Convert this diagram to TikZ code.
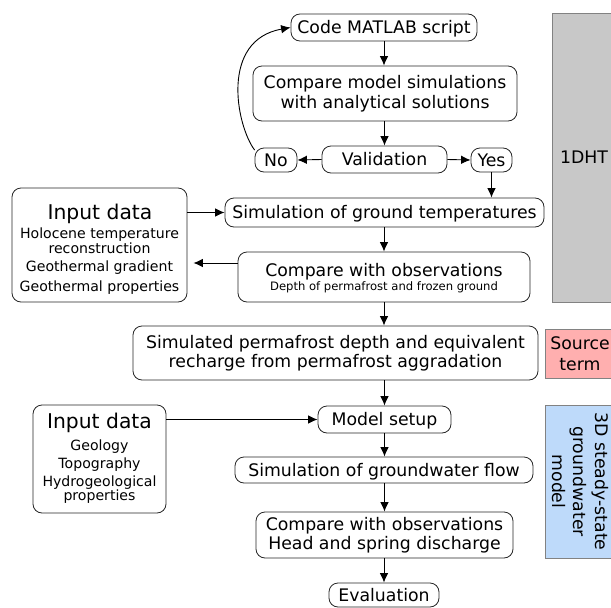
\documentclass[tikz,border=0pt]{standalone}
\usepackage{fontspec}
\setmainfont{DejaVu Sans}
\usetikzlibrary{arrows.meta}
\definecolor{grayfill}{RGB}{200,200,200}
\definecolor{pinkfill}{RGB}{255,175,175}
\definecolor{bluefill}{RGB}{190,218,250}
\definecolor{sideedge}{RGB}{130,130,130}
\begin{document}
\begin{tikzpicture}[x=1pt,y=-1pt,
  box/.style={draw=black!85, line width=0.8pt, rounded corners=9pt, inner sep=0pt,
    font=\fontsize{17.3}{19.5}\selectfont, align=center},
  onebox/.style={box, text height=12.6pt, text depth=0pt},
  arr/.style={-{Latex[length=9.5pt,width=8.5pt]}, line width=0.9pt},
  sidebox/.style={draw=sideedge, line width=0.8pt, inner sep=0pt, align=center,
    font=\fontsize{17.3}{21}\selectfont},
  bigtxt/.style={inner sep=0pt, font=\fontsize{20.3}{22}\selectfont, text height=14.8pt, text depth=0pt},
  midtxt/.style={inner sep=0pt, font=\fontsize{14.1}{15}\selectfont, text height=10.3pt, text depth=0pt},
  maintxt/.style={inner sep=0pt, font=\fontsize{17.3}{19}\selectfont, text height=12.6pt, text depth=0pt},
  smalltxt/.style={inner sep=0pt, font=\fontsize{11.6}{13}\selectfont, text height=8.5pt, text depth=0pt}]
\useasboundingbox (0,0) rectangle (611,608);

% side boxes
\node[sidebox, fill=grayfill, minimum width=64pt, minimum height=289pt] (dht) at (584,157.5) {1DHT};
\node[sidebox, fill=pinkfill, minimum width=70pt, minimum height=49pt] (src) at (580,353.5) {Source\\term};
\node[sidebox, fill=bluefill, minimum width=70pt, minimum height=153pt] (gwm) at (580,481.5) {};
\node[inner sep=0pt, rotate=-90, align=center, font=\fontsize{17.3}{21.5}\selectfont] (gwmt) at (gwm.center) {3D steady-state\\groundwater\\model};

% main column
\node[onebox, minimum width=186pt, minimum height=27pt] (code) at (384,27.5) {Code MATLAB script};
\node[box, minimum width=264pt, minimum height=55pt] (cmp) at (385,93.5) {Compare model simulations\\with analytical solutions};
\node[onebox, minimum width=125pt, minimum height=27pt] (val) at (384.5,159.5) {Validation};
\node[onebox, minimum width=42pt, minimum height=24pt] (no) at (276,160) {No};
\node[onebox, minimum width=41pt, minimum height=24pt] (yes) at (491.5,160) {Yes};
\node[onebox, minimum width=319pt, minimum height=29pt] (sim) at (384.5,212.5) {Simulation of ground temperatures};
\node[box, minimum width=292pt, minimum height=50pt] (cobs) at (384,277) {};
\node[maintxt] (cobs1) at (384,270.5) {Compare with observations};
\node[smalltxt] (cobs2) at (384,286) {Depth of permafrost and frozen ground};
\node[box, minimum width=175pt, minimum height=114pt] (in1) at (99.5,245) {};
\node[bigtxt] (in1a) at (100,212) {Input data};
\node[midtxt] (in1b) at (99.5,233) {Holocene temperature};
\node[midtxt] (in1c) at (99.5,248) {reconstruction};
\node[midtxt] (in1d) at (99.5,266) {Geothermal gradient};
\node[midtxt] (in1e) at (99.5,286) {Geothermal properties};
\node[box, minimum width=405pt, minimum height=54pt] (perm) at (335.5,353) {Simulated permafrost depth and equivalent\\recharge from permafrost aggradation};
\node[onebox, minimum width=133pt, minimum height=27pt] (setup) at (384.5,419.5) {Model setup};
\node[box, minimum width=133pt, minimum height=108pt] (in2) at (99.5,459) {};
\node[bigtxt] (in2a) at (99.5,421) {Input data};
\node[midtxt] (in2b) at (99.5,445) {Geology};
\node[midtxt] (in2c) at (99.5,463) {Topography};
\node[midtxt] (in2d) at (99.5,481) {Hydrogeological};
\node[midtxt] (in2e) at (99.5,495) {properties};
\node[onebox, minimum width=298pt, minimum height=26pt] (gw) at (384,470) {Simulation of groundwater flow};
\node[box, minimum width=257pt, minimum height=46pt] (cmp2) at (384.5,535) {Compare with observations\\Head and spring discharge};
\node[onebox, minimum width=110pt, minimum height=24pt] (eval) at (384,595) {Evaluation};

% connectors
\draw[arr] (code.south) -- (cmp.north -| code.south);
\draw[arr] (cmp.south -| val.north) -- (val.north);
\draw[arr] (val.west) -- (no.east);
\draw[arr] (val.east) -- (yes.west);
\draw[arr] (no.155) .. controls (236,125) and (220,40) .. (code.west);
\draw[arr] (yes.south) -- (yes.south |- sim.north);
\draw[arr] (in1.east |- sim.west) -- (sim.west);
\draw[arr, shorten >=6pt] ([yshift=14pt]cobs.west) -- ([yshift=14pt]cobs.west -| in1.east);
\draw[arr] (sim.south -| cobs.north) -- (cobs.north);
\draw[arr] (cobs.south) -- (cobs.south |- perm.north);
\draw[arr] (setup.north |- perm.south) -- (setup.north);
\draw[arr] (in2.east |- setup.west) -- (setup.west);
\draw[arr] (setup.south) -- (setup.south |- gw.north);
\draw[arr] (gw.south -| cmp2.north) -- (cmp2.north);
\draw[arr] (cmp2.south -| eval.north) -- (eval.north);
\end{tikzpicture}
\end{document}
